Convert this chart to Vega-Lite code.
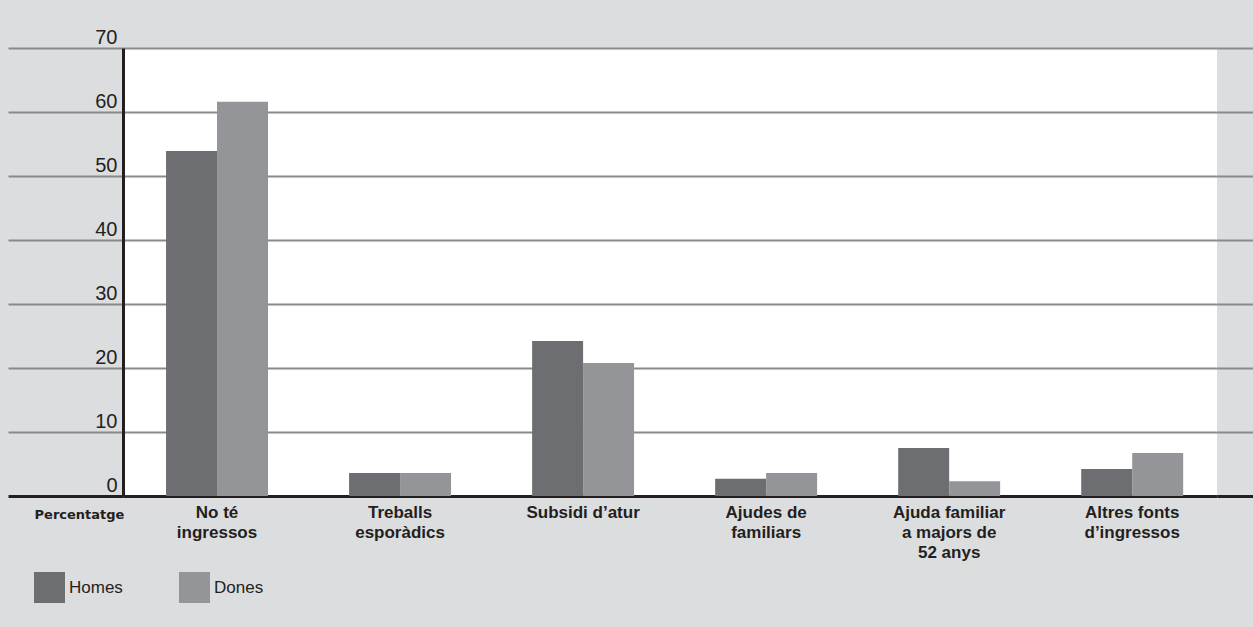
{
  "$schema": "https://vega.github.io/schema/vega-lite/v6.json",
  "width": 1094,
  "height": 448,
  "autosize": {"type": "none"},
  "padding": {"left": 123, "top": 48, "right": 36, "bottom": 131},
  "background": "#dcdddf",
  "config": {
    "view": {"fill": "white", "stroke": null},
    "font": "Liberation Sans"
  },
  "data": {
    "values": [
      {"categoria": "No té ingressos", "sexe": "Homes", "percentatge": 53.9},
      {"categoria": "No té ingressos", "sexe": "Dones", "percentatge": 61.6},
      {"categoria": "Treballs esporàdics", "sexe": "Homes", "percentatge": 3.6},
      {"categoria": "Treballs esporàdics", "sexe": "Dones", "percentatge": 3.6},
      {"categoria": "Subsidi d’atur", "sexe": "Homes", "percentatge": 24.2},
      {"categoria": "Subsidi d’atur", "sexe": "Dones", "percentatge": 20.8},
      {"categoria": "Ajudes de familiars", "sexe": "Homes", "percentatge": 2.7},
      {"categoria": "Ajudes de familiars", "sexe": "Dones", "percentatge": 3.6},
      {"categoria": "Ajuda familiar a majors de 52 anys", "sexe": "Homes", "percentatge": 7.5},
      {"categoria": "Ajuda familiar a majors de 52 anys", "sexe": "Dones", "percentatge": 2.3},
      {"categoria": "Altres fonts d’ingressos", "sexe": "Homes", "percentatge": 4.2},
      {"categoria": "Altres fonts d’ingressos", "sexe": "Dones", "percentatge": 6.7}
    ]
  },
  "encoding": {
    "x": {
      "field": "categoria",
      "type": "nominal",
      "sort": ["No té ingressos", "Treballs esporàdics", "Subsidi d’atur", "Ajudes de familiars", "Ajuda familiar a majors de 52 anys", "Altres fonts d’ingressos"],
      "scale": {"paddingInner": 0.443, "paddingOuter": 0.21, "align": 0.56},
      "axis": {
        "title": null,
        "labelAngle": 0,
        "labelAlign": "center",
        "labelBaseline": "top",
        "labelPadding": 8,
        "labelFontSize": 17,
        "labelFontWeight": "bold",
        "labelColor": "#231f20",
        "labelLineHeight": 20,
        "labelExpr": "datum.value == 'No té ingressos' ? ['No té', 'ingressos'] : datum.value == 'Treballs esporàdics' ? ['Treballs', 'esporàdics'] : datum.value == 'Ajudes de familiars' ? ['Ajudes de', 'familiars'] : datum.value == 'Ajuda familiar a majors de 52 anys' ? ['Ajuda familiar', 'a majors de', '52 anys'] : datum.value == 'Altres fonts d’ingressos' ? ['Altres fonts', 'd’ingressos'] : datum.value",
        "ticks": false,
        "domain": true,
        "domainColor": "#231f20",
        "domainWidth": 3,
        "grid": false
      }
    },
    "xOffset": {"field": "sexe", "type": "nominal", "sort": ["Homes", "Dones"], "scale": {"paddingInner": 0}},
    "color": {
      "field": "sexe",
      "type": "nominal",
      "sort": ["Homes", "Dones"],
      "scale": {"domain": ["Homes", "Dones"], "range": ["#6d6e71", "#939598"]},
      "legend": {
        "title": null,
        "orient": "none",
        "direction": "horizontal",
        "legendX": -89,
        "legendY": 524,
        "padding": 0,
        "symbolType": "square",
        "symbolSize": 961,
        "symbolStrokeWidth": 0,
        "symbolOpacity": 1,
        "labelFontSize": 17,
        "labelColor": "#231f20",
        "labelOffset": 4,
        "columnPadding": 56
      }
    }
  },
  "layer": [
    {
      "mark": {"type": "bar"},
      "encoding": {
        "y": {
          "field": "percentatge",
          "type": "quantitative",
          "scale": {"domain": [0, 70], "nice": false},
          "axis": {
            "values": [0, 10, 20, 30, 40, 50, 60, 70],
            "title": "Percentatge",
            "titleAngle": 0,
            "titleX": -44,
            "titleY": 466,
            "titleAlign": "center",
            "titleBaseline": "middle",
            "titleFont": "DejaVu Sans",
            "titleFontSize": 13,
            "titleFontWeight": "bold",
            "titleColor": "#231f20",
            "grid": true,
            "gridColor": "#8a8a8a",
            "gridWidth": 2,
            "ticks": true,
            "tickSize": 115,
            "tickColor": {"condition": {"test": "datum.value === 0", "value": "#231f20"}, "value": "#8a8a8a"},
            "tickWidth": {"condition": {"test": "datum.value === 0", "value": 3}, "value": 2},
            "domain": true,
            "domainColor": "#231f20",
            "domainWidth": 3,
            "labelPadding": -109,
            "labelAlign": "right",
            "labelBaseline": "alphabetic",
            "labelOffset": -5,
            "labelFontSize": 20,
            "labelColor": "#231f20"
          }
        }
      }
    },
    {
      "mark": {"type": "bar", "opacity": 0},
      "encoding": {
        "y": {
          "field": "percentatge",
          "type": "quantitative",
          "scale": {"domain": [0, 70], "nice": false},
          "axis": {
            "orient": "right",
            "values": [0, 10, 20, 30, 40, 50, 60, 70],
            "title": null,
            "labels": false,
            "grid": false,
            "domain": false,
            "ticks": true,
            "tickSize": 36,
            "tickColor": {"condition": {"test": "datum.value === 0", "value": "#231f20"}, "value": "#8a8a8a"},
            "tickWidth": {"condition": {"test": "datum.value === 0", "value": 3}, "value": 2}
          }
        }
      }
    }
  ],
  "resolve": {"axis": {"y": "independent"}}
}
